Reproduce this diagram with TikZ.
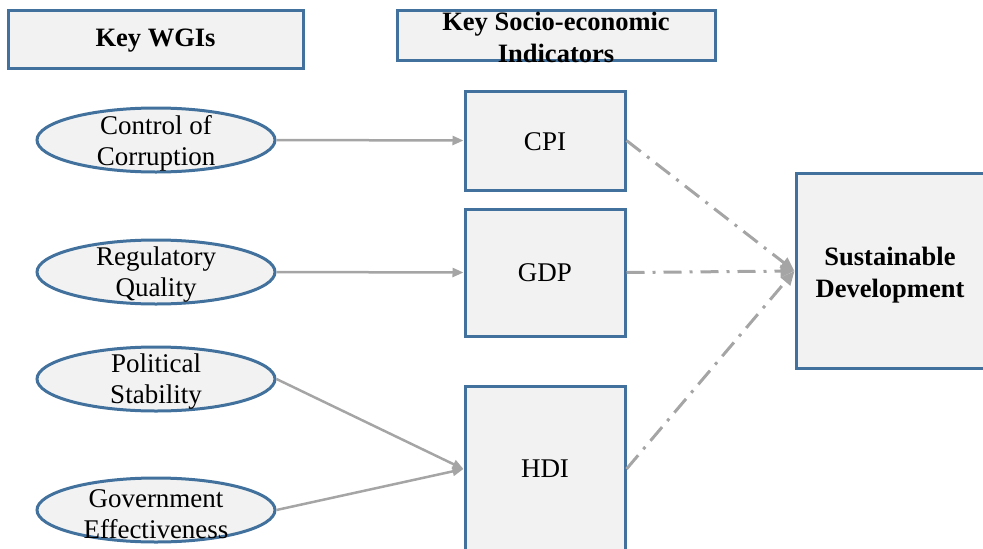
\documentclass[tikz,border=0pt]{standalone}
\usepackage{fontspec}
\setmainfont{Liberation Serif}
\usetikzlibrary{shapes.geometric,arrows.meta}
\definecolor{bord}{HTML}{41719C}
\definecolor{boxfill}{HTML}{F2F2F2}
\definecolor{arr}{HTML}{A5A5A5}
\tikzset{
  boxst/.style={draw=bord, line width=3pt, fill=boxfill, rectangle, inner sep=0pt},
  ellst/.style={draw=bord, line width=3pt, fill=boxfill, ellipse, inner sep=0pt, minimum width=238pt, minimum height=64pt},
  txt/.style={font=\fontsize{27}{31}\selectfont, align=center, inner sep=0pt},
  btxt/.style={font=\fontsize{26.5}{32}\selectfont\bfseries, align=center, inner sep=0pt},
  solidarr/.style={draw=arr, line width=2.5pt, -{Triangle[length=11pt,width=9pt]}},
  dasharr/.style={draw=arr, line width=3pt, dash pattern=on 18pt off 8pt on 3pt off 8pt, -{Triangle[length=14pt,width=12pt]}}
}
\begin{document}
\begin{tikzpicture}[x=1pt,y=-1pt]
\useasboundingbox (0,0) rectangle (983,549);
% headers
\node[boxst, minimum width=295pt, minimum height=58pt] (hw) at (155.5,39) {};
\node[btxt] (hwt) at (155.5,41) {Key WGIs};
\node[boxst, minimum width=318pt, minimum height=50pt] (hs) at (556,35) {};
\node[btxt] (hst) at (556,37) {Key Socio-economic\\Indicators};
% ellipses
\node[ellst] (cc) at (156,140) {};
\node[txt] (cct) at (156,143) {Control of\\Corruption};
\node[ellst] (rq) at (156,272) {};
\node[txt] (rqt) at (156,275) {Regulatory\\Quality};
\node[ellst] (ps) at (156,379) {};
\node[txt] (pst) at (156,382) {Political\\Stability};
\node[ellst] (ge) at (156,510) {};
\node[txt] (get) at (156,514) {Government\\Effectiveness};
% indicator boxes
\node[boxst, minimum width=160pt, minimum height=99pt] (cpi) at (545,140.5) {};
\node[txt] (cpit) at (545,142) {CPI};
\node[boxst, minimum width=160pt, minimum height=127pt] (gdp) at (545,272.5) {};
\node[txt] (gdpt) at (545,273) {GDP};
\node[boxst, minimum width=160pt, minimum height=166pt] (hdi) at (545,469) {};
\node[txt] (hdit) at (545,469) {HDI};
% sustainable development
\node[boxst, minimum width=196pt, minimum height=195pt] (sd) at (894,271) {};
\node[btxt] (sdt) at (890,275) {Sustainable\\Development};
% connectors
\draw[solidarr] (cc.east) -- (cpi.west);
\draw[solidarr] (rq.east) -- (gdp.west);
\draw[solidarr] (ps.east) -- (hdi.west);
\draw[solidarr] (ge.east) -- (hdi.west);
\draw[dasharr] (cpi.east) -- (sd.west);
\draw[dasharr] (gdp.east) -- (sd.west);
\draw[dasharr] (hdi.east) -- (sd.west);
\end{tikzpicture}
\end{document}
